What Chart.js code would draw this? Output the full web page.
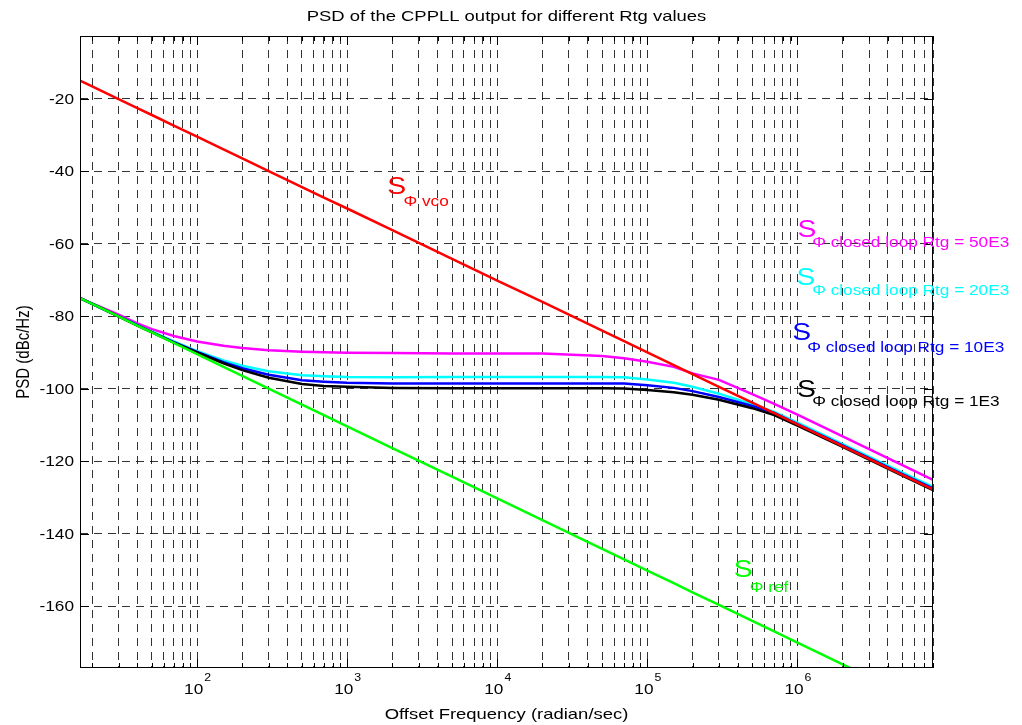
<!DOCTYPE html>
<html>
<head>
<meta charset="utf-8">
<title>PSD of the CPPLL output</title>
<script src="https://cdn.jsdelivr.net/npm/chart.js@4.4.0/dist/chart.umd.min.js"></script>
<style>
  html, body { margin: 0; padding: 0; background: #fff; }
  canvas { display: block; }
</style>
</head>
<body>
<canvas id="psdChart" width="1022" height="725"></canvas>
<script>
const freq = [16.6, 20, 30, 40, 50, 70, 100, 150, 200, 300, 500, 700, 1e3, 2e3, 5e3, 1e4, 2e4, 5e4, 7e4, 1e5, 1.5e5, 2e5, 3e5, 5e5, 7e5, 1e6, 2e6, 5e6, 8e6];

// PSD values in dBc/Hz
const psdVco = [-15.0, -16.6, -20.1, -22.6, -24.5, -27.4, -30.5, -34.0, -36.5, -40.0, -44.4, -47.3, -50.3, -56.3, -64.2, -70.2, -76.1, -84.0, -86.9, -90.0, -93.5, -96.0, -99.5, -103.9, -106.8, -109.9, -115.9, -123.8, -127.8];
const psdRef = [-75.0, -76.6, -80.1, -82.6, -84.5, -87.4, -90.5, -94.0, -96.5, -100.0, -104.4, -107.3, -110.4, -116.4, -124.3, -130.3, -136.3, -144.2, -147.1, -150.2, -153.7, -156.2, -159.7, -164.1, -167.0, -170.1, -176.1, -184.0, -188.1];
const psdRtg50k = [-75.0, -76.5, -79.6, -82.0, -83.6, -85.5, -87.0, -88.2, -88.8, -89.4, -89.8, -90.0, -90.1, -90.2, -90.3, -90.3, -90.3, -91.0, -91.6, -92.6, -94.0, -95.8, -97.6, -101.5, -104.2, -107.2, -113.2, -121.1, -125.2];
const psdRtg20k = [-75.0, -76.6, -80.1, -82.5, -84.3, -87.0, -89.7, -92.2, -93.7, -95.2, -96.3, -96.6, -96.8, -96.9, -96.8, -96.8, -96.8, -96.8, -96.9, -97.5, -98.4, -99.5, -101.4, -104.3, -106.4, -109.4, -115.3, -123.2, -127.1];
const psdRtg10k = [-75.0, -76.6, -80.1, -82.5, -84.4, -87.2, -89.9, -92.7, -94.4, -96.2, -97.7, -98.1, -98.4, -98.6, -98.6, -98.6, -98.6, -98.6, -98.6, -99.1, -99.8, -100.7, -102.3, -104.8, -106.7, -109.8, -115.7, -123.6, -127.5];
const psdRtg1k = [-75.0, -76.6, -80.1, -82.6, -84.5, -87.3, -90.0, -93.0, -94.9, -97.0, -98.7, -99.3, -99.5, -99.8, -99.9, -99.9, -99.9, -99.9, -100.0, -100.4, -101.0, -101.7, -103.1, -105.4, -107.3, -110.2, -116.1, -124.0, -128.0];

// axes
const xMin = 16.6, xMax = 8e6;
const yMin = -177.1, yMax = -2.7;
const xMajorTicks = [1e2, 1e3, 1e4, 1e5, 1e6];
const xTickExponents = ['2', '3', '4', '5', '6'];
const yTicks = [-160, -140, -120, -100, -80, -60, -40, -20];

// curve labels: big "S" and its subscript, both at data positions
const curveLabels = [
  { color: '#ff0000', sub: 'Φ vco', s: [1848, -46.2], subAt: [2373, -49.5] },
  { color: '#ff00ff', sub: 'Φ closed loop Rtg = 50E3', s: [1.0e6, -58.3], subAt: [1.253e6, -61.0] },
  { color: '#00ffff', sub: 'Φ closed loop Rtg = 20E3', s: [9.85e5, -71.5], subAt: [1.253e6, -74.3] },
  { color: '#0000ff', sub: 'Φ closed loop Rtg = 10E3', s: [9.22e5, -86.7], subAt: [1.161e6, -89.9] },
  { color: '#000000', sub: 'Φ closed loop Rtg = 1E3', s: [9.95e5, -102.3], subAt: [1.253e6, -104.9] },
  { color: '#00ff00', sub: 'Φ ref', s: [3.76e5, -152.0], subAt: [4.81e5, -156.1] }
];

const FONT = '"Liberation Sans", Arial, Helvetica, sans-serif';
const SX = 1.23; // the picture is a bit stretched sideways

// gridline positions: 1..9 x each decade inside the x range
const xGrid = [];
for (let d = 10; d <= 1e6; d *= 10) {
  for (let k = 1; k <= 9; k++) {
    const v = k * d;
    if (v >= xMin && v <= xMax) xGrid.push(v);
  }
}

function pts(ys) {
  return freq.map((f, i) => ({ x: f, y: ys[i] }));
}

function text(ctx, str, x, y, size, color, align) {
  ctx.save();
  ctx.font = size + 'px ' + FONT;
  ctx.fillStyle = color || '#000';
  ctx.textAlign = align || 'left';
  ctx.textBaseline = 'alphabetic';
  ctx.translate(x, y);
  ctx.scale(SX, 1);
  ctx.fillText(str, 0, 0);
  const w = ctx.measureText(str).width * SX;
  ctx.restore();
  return w;
}

const matlabAxes = {
  id: 'matlabAxes',
  afterDatasetsDraw(chart) {
    const { ctx, chartArea: a, scales: { x, y } } = chart;
    ctx.save();
    ctx.strokeStyle = '#000';
    ctx.lineWidth = 1;
    ctx.setLineDash([]);
    ctx.strokeRect(a.left + 0.5, a.top + 0.5, a.width - 1, a.height - 1);

    // inward ticks
    ctx.beginPath();
    xGrid.forEach(v => {
      const px = Math.round(x.getPixelForValue(v)) + 0.5;
      const len = xMajorTicks.includes(v) ? 9 : 5;
      ctx.moveTo(px, a.bottom); ctx.lineTo(px, a.bottom - len);
      ctx.moveTo(px, a.top); ctx.lineTo(px, a.top + len);
    });
    yTicks.forEach(v => {
      const py = Math.round(y.getPixelForValue(v)) + 0.5;
      ctx.moveTo(a.left, py); ctx.lineTo(a.left + 9, py);
      ctx.moveTo(a.right, py); ctx.lineTo(a.right - 9, py);
    });
    ctx.stroke();
    ctx.restore();

    // y tick labels
    yTicks.forEach(v => {
      text(ctx, String(v), a.left - 6, y.getPixelForValue(v) + 5, 14, '#000', 'right');
    });

    // x tick labels 10^n
    xMajorTicks.forEach((v, i) => {
      ctx.save();
      ctx.font = '14px ' + FONT;
      const wBase = ctx.measureText('10').width * SX;
      ctx.font = '10px ' + FONT;
      const wExp = ctx.measureText(xTickExponents[i]).width * SX;
      ctx.restore();
      const left = x.getPixelForValue(v) - (wBase + wExp) / 2;
      text(ctx, '10', left, a.bottom + 26, 14, '#000');
      text(ctx, xTickExponents[i], left + wBase + 1, a.bottom + 13, 10, '#000');
    });

    // curve labels
    curveLabels.forEach(l => {
      text(ctx, 'S', x.getPixelForValue(l.s[0]), y.getPixelForValue(l.s[1]), 23, l.color);
      text(ctx, l.sub, x.getPixelForValue(l.subAt[0]), y.getPixelForValue(l.subAt[1]), 14, l.color);
    });

    // title and axis titles
    const cx = (a.left + a.right) / 2;
    text(ctx, 'PSD of the CPPLL output for different Rtg values', cx, 21, 15, '#000', 'center');
    text(ctx, 'Offset Frequency (radian/sec)', cx, 719, 15, '#000', 'center');

    ctx.save();
    ctx.font = '15px ' + FONT;
    ctx.fillStyle = '#000';
    ctx.textAlign = 'center';
    ctx.textBaseline = 'alphabetic';
    ctx.translate(29, (a.top + a.bottom) / 2);
    ctx.scale(SX, 1);
    ctx.rotate(-Math.PI / 2);
    ctx.fillText('PSD (dBc/Hz)', 0, 0);
    ctx.restore();
  }
};

const gridColor = 'rgba(0, 0, 0, 0.8)';

const ctx = document.getElementById('psdChart').getContext('2d');
const psdChart = new Chart(ctx, {
  type: 'line',
  data: {
    datasets: [
      { label: 'S vco', data: pts(psdVco), borderColor: '#ff0000' },
      { label: 'S ref', data: pts(psdRef), borderColor: '#00ff00' },
      { label: 'Rtg = 1E3', data: pts(psdRtg1k), borderColor: '#000000' },
      { label: 'Rtg = 10E3', data: pts(psdRtg10k), borderColor: '#0000ff' },
      { label: 'Rtg = 20E3', data: pts(psdRtg20k), borderColor: '#00ffff' },
      { label: 'Rtg = 50E3', data: pts(psdRtg50k), borderColor: '#ff00ff' }
    ]
  },
  options: {
    responsive: false,
    animation: false,
    layout: { padding: { top: 36, right: 89, bottom: 57, left: 0 } },
    elements: {
      point: { radius: 0 },
      line: { borderWidth: 2.5, tension: 0, fill: false }
    },
    plugins: {
      legend: { display: false },
      title: { display: false },
      tooltip: { enabled: false }
    },
    scales: {
      x: {
        type: 'logarithmic',
        min: xMin,
        max: xMax,
        ticks: { display: false },
        grid: { color: gridColor, lineWidth: 1, drawTicks: false },
        border: { display: false, dash: [8, 6] },
        afterBuildTicks: s => { s.ticks = xGrid.map(v => ({ value: v })); },
        afterFit: s => { s.height = 0; }
      },
      y: {
        type: 'linear',
        min: yMin,
        max: yMax,
        ticks: { display: false },
        grid: { color: gridColor, lineWidth: 1, drawTicks: false },
        border: { display: false, dash: [8, 6] },
        afterBuildTicks: s => { s.ticks = yTicks.map(v => ({ value: v })); },
        afterFit: s => { s.width = 80; }
      }
    }
  },
  plugins: [matlabAxes]
});
</script>
</body>
</html>
